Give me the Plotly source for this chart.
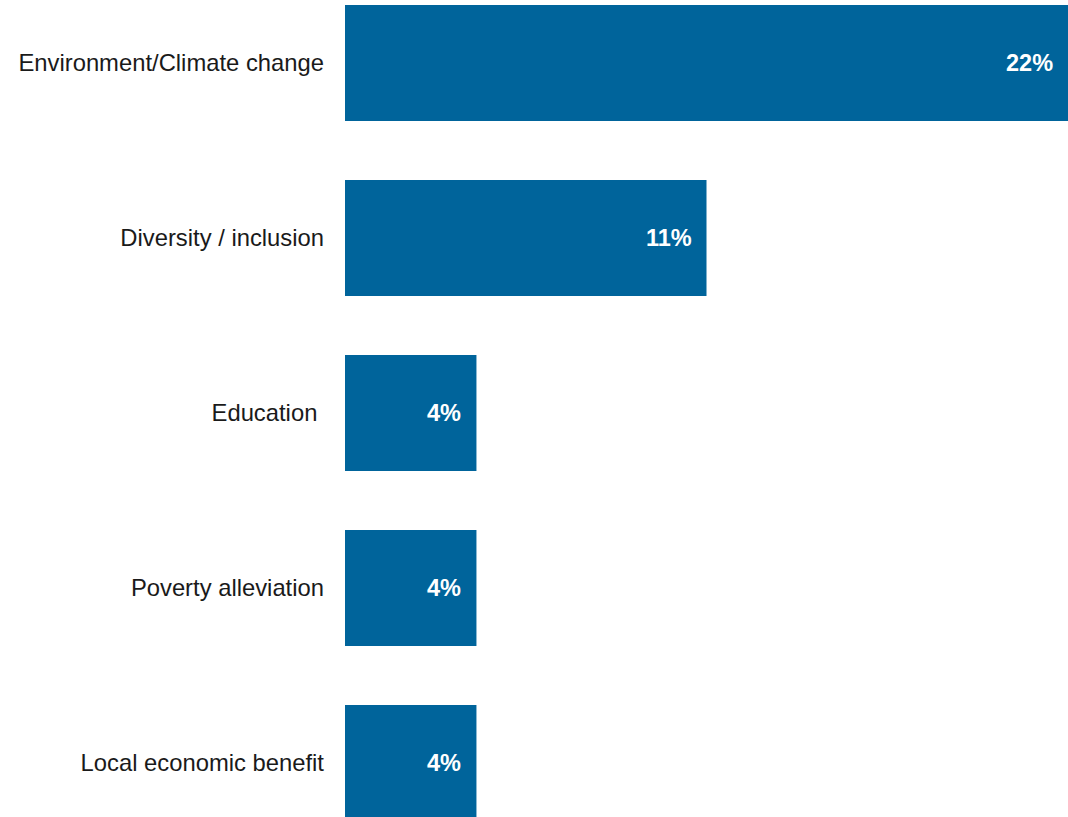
import plotly.graph_objects as go

# Share of respondents by focus area
categories = [
    "Environment/Climate change",
    "Diversity / inclusion",
    "Education\u00a0",
    "Poverty alleviation",
    "Local economic benefit",
]
values = [22, 11, 4, 4, 4]
value_labels = [f"{v}%" for v in values]

BAR_COLOR = "#00649b"
FONT = "Liberation Sans, Arial, sans-serif"

fig = go.Figure(
    go.Bar(
        x=values,
        y=categories,
        orientation="h",
        marker=dict(color=BAR_COLOR, line=dict(width=0)),
        width=0.663,
        hoverinfo="skip",
    )
)

# Value labels right-aligned just inside each bar end
for cat, v, lab in zip(categories, values, value_labels):
    fig.add_annotation(
        x=v, y=cat, text=lab, showarrow=False,
        xanchor="right", yanchor="middle", xshift=-13,
        font=dict(family=FONT, size=23.5, color="white", weight="bold"),
    )

fig.update_layout(
    width=1068, height=817,
    margin=dict(l=345, r=0, t=0, b=0),
    paper_bgcolor="white", plot_bgcolor="white",
    showlegend=False,
    font=dict(family=FONT, size=23.8, color="#1a1a1a"),
)
fig.update_xaxes(range=[0, 22], visible=False, fixedrange=True)
fig.update_yaxes(
    categoryorder="array", categoryarray=categories,
    range=[4.309, -0.36],
    showgrid=False, zeroline=False, showline=False,
    ticks="", ticklabelstandoff=20,
    tickfont=dict(family=FONT, size=23.8, color="#1a1a1a"),
    fixedrange=True,
)

fig.write_html("out.html")
